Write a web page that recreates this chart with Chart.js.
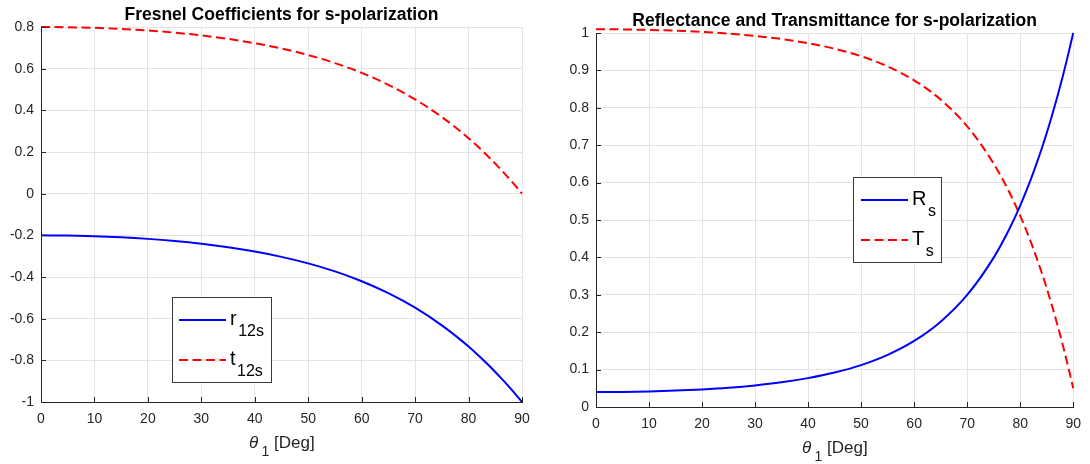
<!doctype html>
<html lang="en">
<head>
  <meta charset="utf-8">
  <title>Fresnel s-polarization</title>
  <style>
    body { margin: 0; background: #fff; }
    #wrap { display: flex; width: 1090px; height: 464px; }
    canvas { display: block; }
  </style>
</head>
<body>
  <div id="wrap">
    <canvas id="coef" width="545" height="464"></canvas>
    <canvas id="power" width="545" height="464"></canvas>
  </div>

  <script src="https://cdn.jsdelivr.net/npm/chart.js@4.4.1/dist/chart.umd.min.js"></script>
  <script>
  // angle of incidence, degrees
  const theta = [0, 5, 10, 15, 20, 25, 30, 35, 40, 45, 50, 55, 60, 65, 70, 75, 78, 80, 82, 83, 84, 85, 86, 87, 88, 89, 90];

  // left plot: amplitude coefficients
  const r12s = [-0.2, -0.201, -0.2041, -0.2094, -0.217, -0.2272, -0.2404, -0.2571, -0.2778, -0.3033, -0.3347, -0.3732, -0.4202, -0.4776, -0.5474, -0.632, -0.6909, -0.7339, -0.7801, -0.8045, -0.8297, -0.8558, -0.8828, -0.9107, -0.9395, -0.9693, -1];
  const t12s = [0.8, 0.799, 0.7959, 0.7906, 0.783, 0.7728, 0.7596, 0.7429, 0.7222, 0.6967, 0.6653, 0.6268, 0.5798, 0.5224, 0.4526, 0.368, 0.3091, 0.2661, 0.2199, 0.1955, 0.1703, 0.1442, 0.1172, 0.0893, 0.0605, 0.0307, 0];

  // right plot: reflectance / transmittance
  const Rs = [0.04, 0.0404, 0.0417, 0.0438, 0.0471, 0.0516, 0.0578, 0.0661, 0.0772, 0.092, 0.112, 0.1393, 0.1766, 0.2281, 0.2996, 0.3994, 0.4773, 0.5386, 0.6086, 0.6472, 0.6884, 0.7323, 0.7793, 0.8293, 0.8826, 0.9395, 1];
  const Ts = [1.01, 1.0096, 1.0083, 1.0062, 1.0029, 0.9984, 0.9922, 0.9839, 0.9728, 0.958, 0.938, 0.9107, 0.8734, 0.8219, 0.7504, 0.6506, 0.5727, 0.5114, 0.4414, 0.4028, 0.3616, 0.3177, 0.2707, 0.2207, 0.1674, 0.1105, 0.05];

  const FONT = '"Liberation Sans", Arial, Helvetica, sans-serif';
  const INK = '#262626';
  const GRID = '#e4e4e4';
  const BLUE = '#0000ff';
  const RED = '#ff0000';

  function pts(ys) {
    return theta.map((x, i) => ({ x: x, y: ys[i] }));
  }

  function fmt(v) {
    return String(+v.toFixed(2));
  }

  // matlab-ish decorations: inward ticks, title, x label with subscript, legend box
  const matlab = {
    id: 'matlab',
    afterDraw(chart, args, opts) {
      const ctx = chart.ctx;
      const area = chart.chartArea;
      const xs = chart.scales.x, ys = chart.scales.y;
      ctx.save();

      // inward tick marks
      ctx.strokeStyle = INK;
      ctx.lineWidth = 1;
      ctx.beginPath();
      xs.ticks.forEach(t => {
        const px = Math.round(xs.getPixelForValue(t.value)) + 0.5;
        ctx.moveTo(px, area.bottom);
        ctx.lineTo(px, area.bottom - 5);
      });
      ys.ticks.forEach(t => {
        const py = Math.round(ys.getPixelForValue(t.value)) + 0.5;
        ctx.moveTo(area.left, py);
        ctx.lineTo(area.left + 5, py);
      });
      ctx.stroke();

      const cx = (area.left + area.right) / 2;

      // title
      ctx.fillStyle = '#000';
      ctx.font = 'bold 17.5px ' + FONT;
      ctx.textAlign = 'center';
      ctx.textBaseline = 'middle';
      ctx.fillText(opts.title, cx, area.top - 12);

      // x label: theta_1 [Deg]
      ctx.fillStyle = INK;
      ctx.textAlign = 'left';
      const x0 = cx - 32.5;
      const ly = area.bottom + 41;
      ctx.font = 'italic 17px ' + FONT;
      ctx.fillText('θ', x0, ly);
      ctx.font = '14px ' + FONT;
      ctx.fillText('1', x0 + 12.5, ly + 9);
      ctx.font = '17px ' + FONT;
      ctx.fillText('[Deg]', x0 + 25, ly);

      // legend
      const lg = opts.legend;
      ctx.fillStyle = '#fff';
      ctx.fillRect(lg.x, lg.y, lg.w, lg.h);
      ctx.strokeStyle = '#3a3a3a';
      ctx.strokeRect(lg.x + 0.5, lg.y + 0.5, lg.w, lg.h);
      ctx.textBaseline = 'alphabetic';
      lg.items.forEach(it => {
        ctx.strokeStyle = it.color;
        ctx.lineWidth = 2;
        ctx.setLineDash(it.dash);
        ctx.beginPath();
        ctx.moveTo(lg.x1, it.y);
        ctx.lineTo(lg.x2, it.y);
        ctx.stroke();
        ctx.setLineDash([]);
        ctx.fillStyle = '#000';
        ctx.font = '20px ' + FONT;
        ctx.fillText(it.main, lg.tx, it.y + 4.5);
        const w = ctx.measureText(it.main).width;
        ctx.font = '16px ' + FONT;
        ctx.fillText(it.sub, lg.tx + w + 1.5, it.y + 16);
      });

      ctx.restore();
    }
  };

  function makeChart(id, sets, s) {
    new Chart(document.getElementById(id), {
      type: 'line',
      data: {
        datasets: sets.map(d => ({
          data: pts(d.values),
          borderColor: d.color,
          borderWidth: 2,
          borderDash: d.dash,
          pointRadius: 0,
          fill: false,
          clip: false,
          cubicInterpolationMode: 'monotone'
        }))
      },
      options: {
        responsive: false,
        animation: false,
        devicePixelRatio: 1,
        layout: { padding: { top: s.top, right: s.right, bottom: 0, left: 0 } },
        plugins: {
          legend: { display: false },
          tooltip: { enabled: false },
          matlab: { title: s.title, legend: s.legend }
        },
        scales: {
          x: {
            type: 'linear', min: 0, max: 90,
            ticks: { stepSize: 10, autoSkip: false, maxRotation: 0, padding: 9, color: INK, font: { family: FONT, size: 14 } },
            grid: { color: GRID, drawTicks: false },
            border: { color: INK, width: 1 },
            afterFit: sc => { sc.height = 464 - s.bottom; }
          },
          y: {
            type: 'linear', min: s.ymin, max: s.ymax,
            ticks: { stepSize: s.ystep, autoSkip: false, padding: 7, color: INK, font: { family: FONT, size: 14 }, callback: fmt },
            grid: { color: GRID, drawTicks: false },
            border: { color: INK, width: 1 },
            afterFit: sc => { sc.width = s.left; }
          }
        }
      },
      plugins: [matlab]
    });
  }

  makeChart('coef', [
    { values: r12s, color: BLUE, dash: [] },
    { values: t12s, color: RED, dash: [9, 4.5] }
  ], {
    title: 'Fresnel Coefficients for s-polarization',
    top: 27, right: 23, left: 41, bottom: 402,
    ymin: -1, ymax: 0.8, ystep: 0.2,
    legend: {
      x: 172, y: 297, w: 99, h: 85, x1: 179, x2: 226, tx: 230,
      items: [
        { main: 'r', sub: '12s', color: BLUE, dash: [], y: 320 },
        { main: 't', sub: '12s', color: RED, dash: [9, 4.5], y: 360 }
      ]
    }
  });

  makeChart('power', [
    { values: Rs, color: BLUE, dash: [] },
    { values: Ts, color: RED, dash: [9, 4.5] }
  ], {
    title: 'Reflectance and Transmittance for s-polarization',
    top: 33, right: 14, left: 51, bottom: 407,
    ymin: 0, ymax: 1, ystep: 0.1,
    legend: {
      x: 308, y: 177, w: 88, h: 85, x1: 316, x2: 363, tx: 367,
      items: [
        { main: 'R', sub: 's', color: BLUE, dash: [], y: 200 },
        { main: 'T', sub: 's', color: RED, dash: [9, 4.5], y: 240 }
      ]
    }
  });
  </script>
</body>
</html>
